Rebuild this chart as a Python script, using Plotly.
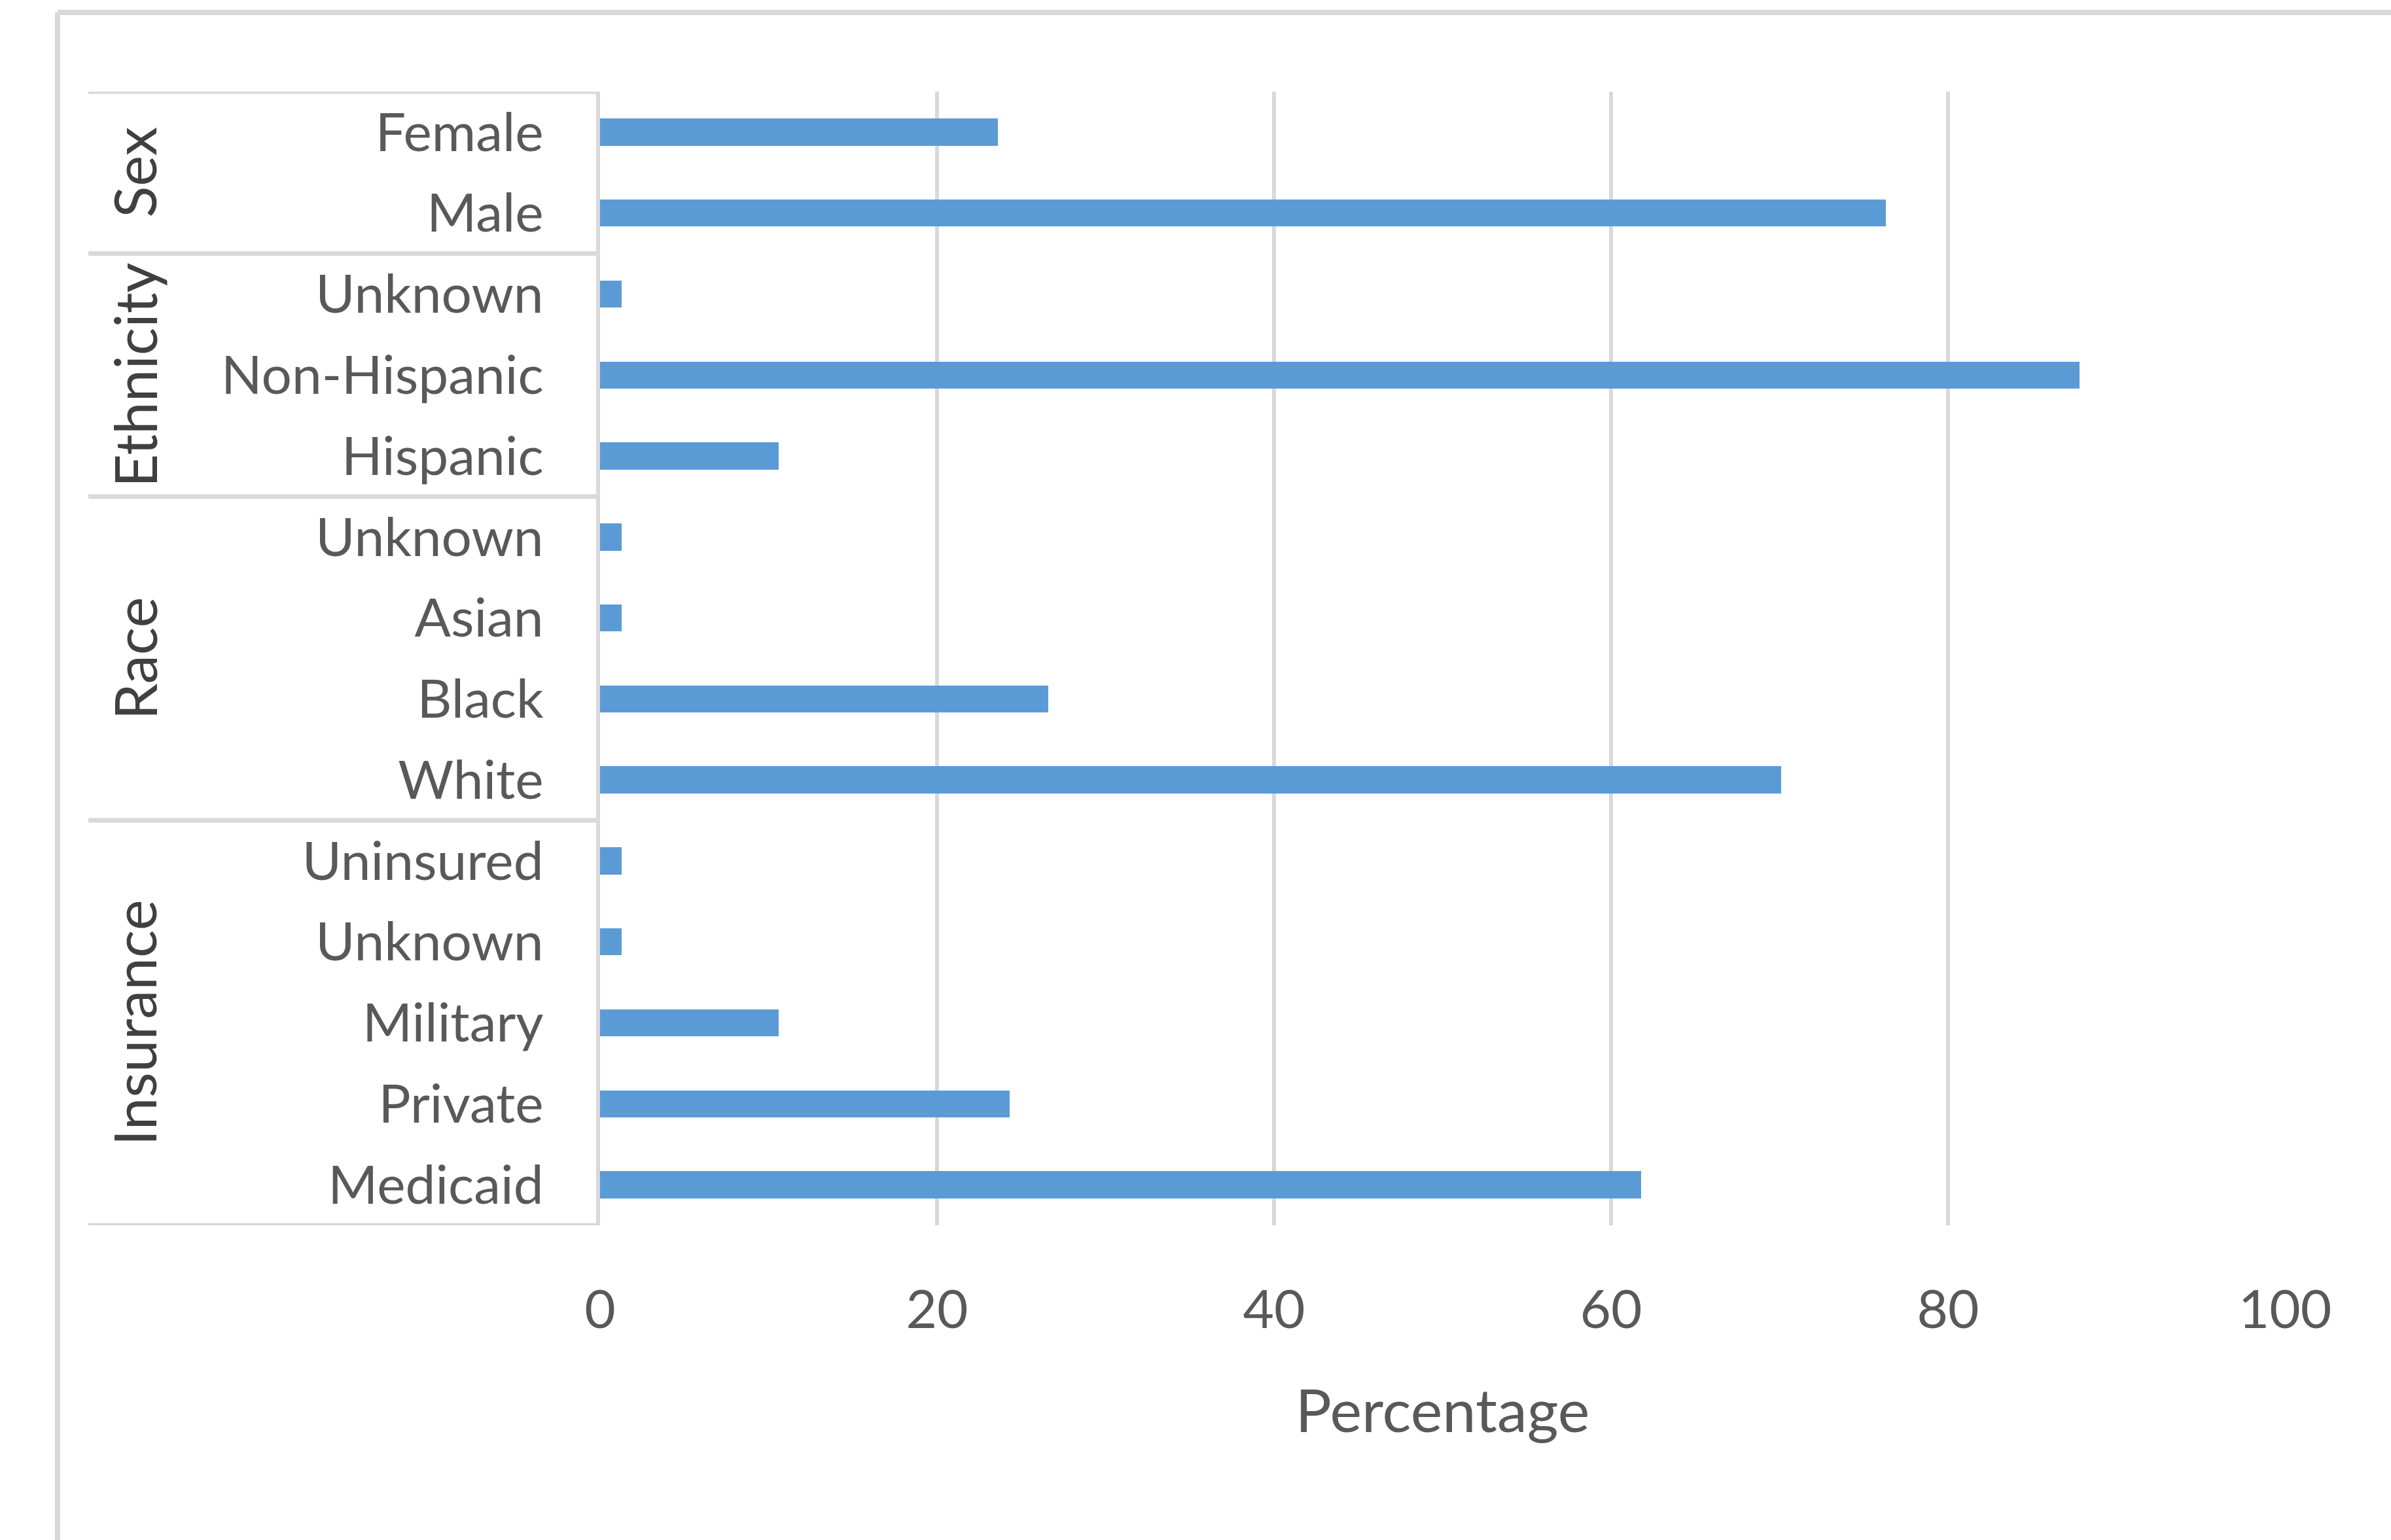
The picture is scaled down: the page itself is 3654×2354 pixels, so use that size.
import plotly.graph_objects as go

# ---- data -------------------------------------------------------------
group_names = ["Sex", "Ethnicity", "Race", "Insurance"]

sex_labels = ["Female", "Male"]
sex_values = [23.6, 76.3]

ethnicity_labels = ["Unknown", "Non-Hispanic", "Hispanic"]
ethnicity_values = [1.3, 87.8, 10.6]

race_labels = ["Unknown", "Asian", "Black", "White"]
race_values = [1.3, 1.3, 26.6, 70.1]

insurance_labels = ["Uninsured", "Unknown", "Military", "Private", "Medicaid"]
insurance_values = [1.3, 1.3, 10.6, 24.3, 61.8]

x_ticks = [0, 20, 40, 60, 80, 100]

# ---- assemble rows (top to bottom) -------------------------------------
group_labels = [sex_labels, ethnicity_labels, race_labels, insurance_labels]
group_values = [sex_values, ethnicity_values, race_values, insurance_values]

labels, values = [], []
group_spans = []
for lab, val in zip(group_labels, group_values):
    start = len(labels)
    labels += lab
    values += val
    group_spans.append((start, len(labels) - 1))
positions = list(range(len(labels)))

# ---- styling -----------------------------------------------------------
BAR_BLUE = "#5B9BD5"
GRID = "#D9D9D9"
TEXT = "#595959"
FONT = "Lato, sans-serif"

W, H = 3654, 2354
ML, MR, MT, MB = 917, 162, 140, 481
PW, PH = W - ML - MR, H - MT - MB


def px_to_paper_x(px):
    return (px - ML) / PW


def px_to_paper_y(py):
    return (H - MB - py) / PH


fig = go.Figure(
    go.Bar(
        x=values,
        y=positions,
        orientation="h",
        width=0.335,
        marker=dict(color=BAR_BLUE, line=dict(width=0)),
        hoverinfo="x+text",
        hovertext=labels,
    )
)

# horizontal separators of the category box (top, between groups, bottom)
box_left = px_to_paper_x(135)
boundaries = [-0.5] + [end + 0.5 for _, end in group_spans]
shapes = []
for b in boundaries:
    shapes.append(dict(type="line", xref="paper", yref="y",
                       x0=box_left, x1=0, y0=b, y1=b,
                       line=dict(color=GRID, width=7), layer="below"))

# outer chart frame (left and top edges)
frame_x = px_to_paper_x(88)
frame_y = px_to_paper_y(19)
shapes.append(dict(type="line", xref="paper", yref="paper",
                   x0=frame_x, x1=frame_x, y0=-0.4, y1=frame_y,
                   line=dict(color=GRID, width=8)))
shapes.append(dict(type="line", xref="paper", yref="paper",
                   x0=frame_x, x1=1.2, y0=frame_y, y1=frame_y,
                   line=dict(color=GRID, width=8)))

# rotated group titles
annotations = []
group_x = px_to_paper_x(205)
for name, (s, e) in zip(group_names, group_spans):
    annotations.append(dict(
        text=name, xref="paper", yref="y", x=group_x, y=(s + e) / 2,
        textangle=-90, showarrow=False, xanchor="center", yanchor="middle",
        font=dict(family=FONT, size=89, color="#404040"),
    ))

fig.update_layout(
    width=W, height=H,
    margin=dict(l=ML, r=MR, t=MT, b=MB, pad=0),
    paper_bgcolor="white", plot_bgcolor="white",
    showlegend=False,
    bargap=0,
    shapes=shapes,
    annotations=annotations,
    xaxis=dict(
        range=[0, 100], tickvals=x_ticks, showgrid=True, gridcolor=GRID,
        gridwidth=6, zeroline=False, showline=False, ticks="",
        ticklabelstandoff=74,
        tickfont=dict(family=FONT, size=82, color=TEXT),
        title=dict(text="Percentage", standoff=78,
                   font=dict(family=FONT, size=92, color=TEXT)),
    ),
    yaxis=dict(
        tickvals=positions, ticktext=labels, range=[len(labels) - 0.5, -0.5],
        showgrid=False, zeroline=False, showline=True, linecolor=GRID,
        linewidth=6, ticks="", ticklabelstandoff=64,
        tickfont=dict(family=FONT, size=82, color=TEXT),
    ),
)

fig.write_html("out.html")
